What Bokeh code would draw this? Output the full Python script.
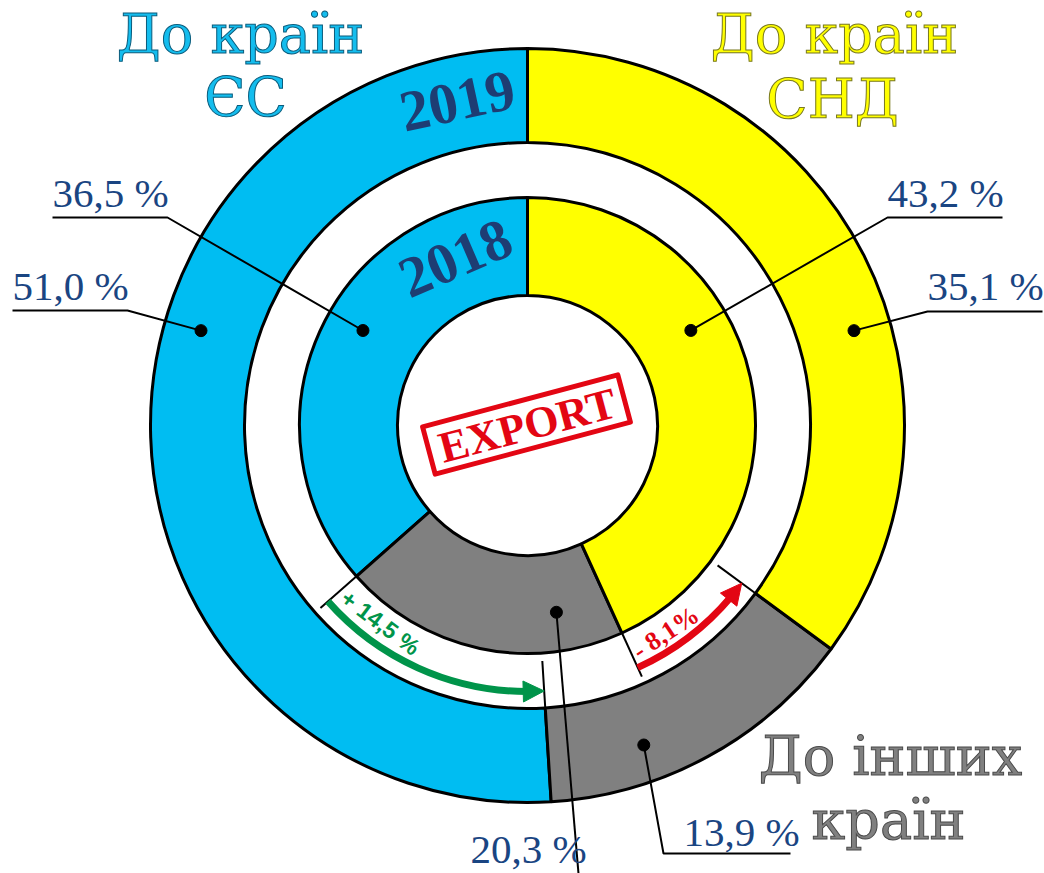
import math
from bokeh.plotting import figure
from bokeh.models import Range1d, Arrow, NormalHead
from bokeh.core.properties import value
from bokeh.embed import file_html
from bokeh.resources import INLINE

# ---------------- data ----------------
categories = ["До країн ЄС", "До інших країн", "До країн СНД"]   # counter-clockwise from the top
years = ["2019", "2018"]
share_2019 = [51.0, 13.9, 35.1]
share_2018 = [36.5, 20.3, 43.2]
labels_2019 = ["51,0 %", "13,9 %", "35,1 %"]
labels_2018 = ["36,5 %", "20,3 %", "43,2 %"]
change_labels = ["+ 14,5 %", "- 8,1%"]
center_label = "EXPORT"
title_lines = [["До країн", "ЄС"], ["До інших", "країн"], ["До країн", "СНД"]]

# ---------------- style / layout ----------------
W, H = 1044, 873
def Y(yi):            # picture row -> data y (y up)
    return H - yi

seg_colors = ["#00BDF2", "#808080", "#FFFF00"]
title_fill = ["#14BDEE", "#808080", "#FFFF00"]
title_outline = ["#0B5C7C", "#4A4A4A", "#7A7A20"]
navy = "#1A4582"
year_color = "#1E3D73"
green = "#00944A"
red = "#E30613"
CX, CY = 527, Y(425)
R_OUT = (283, 377)
R_IN = (130, 228)
BASE_FIX = 0.29      # alphabetic baseline correction, in em

p = figure(width=W, height=H, x_range=Range1d(0, W), y_range=Range1d(0, H),
           output_backend="svg", toolbar_location=None, min_border=0)
p.axis.visible = False
p.grid.visible = False
p.outline_line_color = None
p.background_fill_color = "white"


def ring_angles(shares):
    starts, ends, a = [], [], 90.0
    for s in shares:
        starts.append(a)
        a += s * 3.6
        ends.append(a)
    return starts, ends


s19, e19 = ring_angles(share_2019)
s18, e18 = ring_angles(share_2018)

for (ri, ro), st, en in ((R_OUT, s19, e19), (R_IN, s18, e18)):
    p.annular_wedge(x=[CX] * 3, y=[CY] * 3, inner_radius=ri, outer_radius=ro,
                    start_angle=[math.radians(a) for a in st],
                    end_angle=[math.radians(a) for a in en],
                    fill_color=seg_colors, line_color="black", line_width=3)


def polar(r, deg):
    return CX + r * math.cos(math.radians(deg)), CY + r * math.sin(math.radians(deg))


# boundary ticks across the white gap
gx0, gy0, gx1, gy1 = [], [], [], []
for ang in (e18[0], e18[1]):
    a0 = polar(R_IN[1], ang); a1 = polar(276, ang)
    gx0.append(a0[0]); gy0.append(a0[1]); gx1.append(a1[0]); gy1.append(a1[1])
for ang in (e19[0], e19[1]):
    a0 = polar(236, ang); a1 = polar(R_OUT[0], ang)
    gx0.append(a0[0]); gy0.append(a0[1]); gx1.append(a1[0]); gy1.append(a1[1])
p.segment(x0=gx0, y0=gy0, x1=gx1, y1=gy1, line_color="black", line_width=2)

# change arrows (2018 boundary -> 2019 boundary)
R_ARC = 266
head_deg = math.degrees(20 / R_ARC)
arrows = [(e18[0], e19[0], green), (e18[1], e19[1], red)]
for a_from, a_to, col in arrows:
    p.arc(x=CX, y=CY, radius=R_ARC, start_angle=math.radians(a_from),
          end_angle=math.radians(a_to - head_deg + 0.6), line_color=col, line_width=7)
    bx, by = polar(R_ARC, a_to - head_deg)
    tx, ty = polar(R_ARC, a_to)
    p.add_layout(Arrow(end=NormalHead(size=21, fill_color=col, line_color=col),
                       x_start=bx, y_start=by, x_end=tx, y_end=ty,
                       line_alpha=0, line_width=1))

# change labels
gxy = polar(246, 233.3)
p.text(x=[gxy[0]], y=[gxy[1]], text=[change_labels[0]], angle=math.radians(-36.7),
       text_color=green, text_font=value("Liberation Sans"), text_font_style="bold",
       text_font_size="23px", text_align="center", text_baseline="middle")
rxy = polar(249, -56.3)
p.text(x=[rxy[0]], y=[rxy[1]], text=[change_labels[1]], angle=math.radians(33.7),
       text_color=red, text_font=value("Liberation Serif"), text_font_style="bold",
       text_font_size="26px", text_align="center", text_baseline="middle")

# year labels on the rings
for r, ang, t in ((332, 102.2, years[0]), (182, 113.3, years[1])):
    x, y = polar(r, ang)
    p.text(x=[x], y=[y], text=[t], angle=math.radians(ang - 90), text_color=year_color,
           text_font=value("Liberation Serif"), text_font_style="bold",
           text_font_size="58px", text_align="center", text_baseline="middle")

# stamp in the centre
sx, sy, sang = 526, Y(424), math.radians(14.9)
p.rect(x=[sx], y=[sy], width=202, height=49, angle=sang, fill_color="white",
       line_color=red, line_width=5, line_join="round")
p.text(x=[sx + 1], y=[sy - 1], text=[center_label], angle=sang, text_color=red,
       text_font=value("Liberation Serif"), text_font_style="bold", text_font_size="44px",
       text_align="center", text_baseline="middle")

# percentage labels with leaders
# (dot r, dot angle, elbow x, elbow row, end x, text x, text baseline row)
lay_2019 = [(340, 163.8, 127, 310, 12, 12, 297),
            (340, -70.0, 663, 853, 790, 683, 843),
            (340, 16.2, 927, 311, 1042, 927, 297)]
lay_2018 = [(190, 150.0, 167, 217, 52, 52, 204),
            (189, -81.2, 579, 885, 579, 470, 860),
            (189, 30.2, 887, 217, 1002, 887, 204)]
PCT_FS = 41
lx, ly, dx, dy, tx_, ty_, tt = [], [], [], [], [], [], []
for labels, lay in ((labels_2019, lay_2019), (labels_2018, lay_2018)):
    for lab, (dr, da, ex, ey, endx, txx, tyy) in zip(labels, lay):
        d = polar(dr, da)
        dx.append(d[0]); dy.append(d[1])
        lx.append([d[0], ex, endx]); ly.append([d[1], Y(ey), Y(ey)])
        tx_.append(txx); ty_.append(Y(tyy) + BASE_FIX * PCT_FS); tt.append(lab)
p.multi_line(xs=lx, ys=ly, line_color="black", line_width=2)
p.scatter(x=dx, y=dy, size=12, fill_color="black", line_color="black")
p.text(x=tx_, y=ty_, text=tt, text_color=navy, text_font=value("Liberation Serif"),
       text_font_size=f"{PCT_FS}px", text_align="left", text_baseline="alphabetic")

# category titles
TITLE_FS = 54
title_pos = [((240, 50), (245, 113)), ((890, 772), (888, 836)), ((834, 50), (832, 115))]
for lines, pos, fc, oc in zip(title_lines, title_pos, title_fill, title_outline):
    p.text(x=[pos[0][0], pos[1][0]],
           y=[Y(pos[0][1]) + BASE_FIX * TITLE_FS, Y(pos[1][1]) + BASE_FIX * TITLE_FS],
           text=lines, text_color=fc, text_outline_color=oc, text_font=value("DejaVu Serif"),
           text_font_size=f"{TITLE_FS}px", text_align="center", text_baseline="alphabetic")

open("out.html", "w").write(file_html(p, INLINE))
